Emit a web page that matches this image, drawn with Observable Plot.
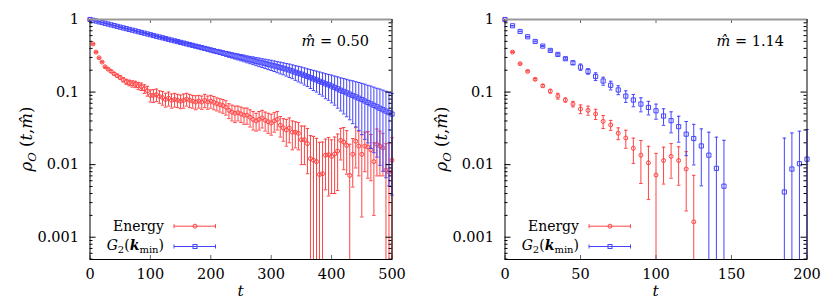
<!DOCTYPE html>
<html><head><meta charset="utf-8">
<script src="https://cdn.jsdelivr.net/npm/d3@7"></script>
<script src="https://cdn.jsdelivr.net/npm/@observablehq/plot@0.6"></script>
<style>
html,body{margin:0;padding:0;background:#fff;}
#wrap{display:flex;width:830px;height:302px;}
svg text{font-family:"DejaVu Serif",serif;}
</style></head><body><div id="wrap"></div>
<script>
// ---------- Left panel (m = 0.50) ----------
const tLeft = [0,5,10,15,20,25,30,35,40,45,50,55,60,65,70,75,80,85,90,95,100,105,110,115,120,125,130,135,140,145,150,155,160,165,170,175,180,185,190,195,200,205,210,215,220,225,230,235,240,245,250,255,260,265,270,275,280,285,290,295,300,305,310,315,320,325,330,335,340,345,350,355,360,365,370,375,380,385,390,395,400,405,410,415,420,425,430,435,440,445,450,455,460,465,470,475,480,485,490,495,500];
const energyLeft = [1.0,0.46,0.355,0.297,0.259,0.223,0.207,0.193,0.179,0.168,0.159,0.148,0.139,0.134,0.130,0.128,0.122,0.119,0.111,0.104,0.090,0.090,0.092,0.087,0.084,0.079,0.082,0.077,0.079,0.077,0.075,0.077,0.080,0.077,0.075,0.073,0.075,0.073,0.077,0.073,0.075,0.072,0.069,0.067,0.065,0.062,0.056,0.053,0.051,0.052,0.050,0.048,0.048,0.045,0.042,0.040,0.042,0.044,0.041,0.039,0.0375,0.040,0.042,0.035,0.032,0.030,0.032,0.028,0.028,0.027,0.022,0.022,0.0195,0.0121,0.0115,0.011,0.0073,0.0075,0.0135,0.0137,0.013,0.014,0.0154,0.0216,0.0205,0.0184,0.0071,0.0139,0.021,0.018,0.0139,0.018,0.0175,0.016,0.011,0.019,0.018,0.017,0.0084,0.0079,0.0115];
const energyLeftErr = [0,0.004,0.004,0.004,0.005,0.005,0.006,0.006,0.007,0.008,0.009,0.010,0.011,0.012,0.013,0.013,0.014,0.014,0.015,0.016,0.017,0.018,0.018,0.017,0.018,0.017,0.018,0.017,0.017,0.016,0.016,0.017,0.016,0.016,0.015,0.016,0.015,0.015,0.016,0.015,0.015,0.015,0.014,0.014,0.014,0.014,0.013,0.013,0.013,0.012,0.012,0.012,0.012,0.012,0.012,0.011,0.012,0.012,0.012,0.012,0.012,0.012,0.012,0.011,0.011,0.012,0.012,0.012,0.011,0.011,0.012,0.012,0.012,0.013,0.013,0.012,0.013,0.013,0.009,0.010,0.009,0.010,0.011,0.010,0.012,0.011,0.012,0.009,0.012,0.011,0.012,0.010,0.011,0.010,0.009,0.012,0.011,0.010,0.011,0.012,0.012];
const g2Left = [1.0,0.976,0.953,0.929,0.908,0.886,0.865,0.844,0.824,0.804,0.785,0.766,0.748,0.730,0.713,0.696,0.679,0.663,0.647,0.632,0.617,0.602,0.587,0.573,0.560,0.546,0.533,0.520,0.508,0.496,0.484,0.473,0.461,0.450,0.440,0.429,0.419,0.409,0.399,0.390,0.380,0.371,0.362,0.354,0.345,0.337,0.329,0.321,0.313,0.306,0.299,0.292,0.284,0.278,0.272,0.265,0.259,0.253,0.247,0.241,0.236,0.230,0.224,0.218,0.213,0.207,0.201,0.195,0.188,0.182,0.177,0.170,0.164,0.158,0.152,0.147,0.141,0.136,0.130,0.126,0.121,0.116,0.111,0.106,0.102,0.0977,0.0935,0.0897,0.0859,0.0824,0.0789,0.0753,0.0719,0.0687,0.0656,0.0627,0.0598,0.0571,0.0546,0.0521,0.0498];
const g2LeftErr = [0,0.002,0.002,0.003,0.003,0.003,0.004,0.004,0.004,0.005,0.005,0.005,0.006,0.006,0.006,0.007,0.007,0.008,0.008,0.009,0.009,0.010,0.010,0.011,0.011,0.012,0.012,0.013,0.014,0.014,0.015,0.016,0.016,0.017,0.018,0.018,0.019,0.020,0.020,0.021,0.022,0.023,0.023,0.024,0.025,0.026,0.027,0.027,0.028,0.029,0.030,0.031,0.031,0.032,0.033,0.034,0.035,0.035,0.036,0.037,0.038,0.038,0.039,0.040,0.040,0.041,0.042,0.042,0.043,0.044,0.044,0.045,0.045,0.046,0.047,0.047,0.048,0.048,0.049,0.049,0.050,0.050,0.051,0.051,0.052,0.052,0.052,0.053,0.053,0.053,0.053,0.053,0.052,0.052,0.051,0.050,0.050,0.049,0.048,0.047,0.046];

// ---------- Right panel (m = 1.14) ----------
const tEnergyRight = [0,5,10,15,20,25,30,35,40,45,50,55,60,65,70,75,80,85,90,95,100,105,110,115,120,125];
const energyRight = [1.0,0.355,0.246,0.193,0.150,0.122,0.103,0.088,0.0777,0.0684,0.0584,0.056,0.0499,0.0395,0.0352,0.0271,0.0233,0.0168,0.0135,0.0106,0.0072,0.0114,0.013,0.0114,0.0087,0.00163];
const energyRightErr = [0,0.004,0.004,0.004,0.004,0.005,0.006,0.008,0.005,0.006,0.008,0.008,0.008,0.008,0.0055,0.005,0.0065,0.0064,0.008,0.0073,0.0071,0.006,0.0065,0.0062,0.0064,0.0055];
const tG2Right = [0,5,10,15,20,25,30,35,40,45,50,55,60,65,70,75,80,85,90,95,100,105,110,115,120,125,130,135,140,145,185,190,195,200];
const g2Right = [1.0,0.819,0.684,0.578,0.498,0.43,0.375,0.33,0.288,0.253,0.221,0.193,0.164,0.142,0.124,0.107,0.088,0.0777,0.0684,0.0614,0.0552,0.0468,0.0404,0.0334,0.0263,0.0229,0.0181,0.0135,0.0089,0.00505,0.0042,0.0087,0.0103,0.0119];
const g2RightErr = [0,0.004,0.005,0.006,0.006,0.007,0.007,0.008,0.009,0.014,0.022,0.017,0.020,0.018,0.017,0.015,0.016,0.015,0.015,0.013,0.013,0.012,0.013,0.013,0.013,0.013,0.013,0.0145,0.015,0.0166,0.019,0.0186,0.0186,0.0186];

const yMajorTicks = [0.001, 0.01, 0.1, 1];
const yTickLabels = ["0.001", "0.01", "0.1", "1"];
const xTicksLeft = [0, 100, 200, 300, 400, 500];
const xTicksRight = [0, 50, 100, 150, 200];

// ---------- styling ----------
const RED = "#ff4444", BLUE = "#4444ff";
const W = 415, H = 302, ML = 89.5, MR = 23.5, MT = 19, MB = 43;
const PW = W - ML - MR, PH = H - MT - MB;
const YMIN = 4.93e-4;
const yMinorTicks = d3.scaleLog().domain([YMIN, 1]).ticks().filter(v => !yMajorTicks.some(m => Math.abs(m - v) / m < 1e-6));
const capSym = {draw(ctx, size) { const r = Math.sqrt(size / Math.PI); ctx.moveTo(-r, 0); ctx.lineTo(r, 0); }};

const rows = (t, v, e) => t.map((ti, i) => ({t: ti, v: v[i], e: e[i]}));

function errorMarks(data, color) {
  const lo = d => Math.max(d.v - d.e, YMIN);
  const hi = d => d.v + d.e;
  return [
    Plot.ruleX(data, {x: "t", y1: lo, y2: hi, stroke: color, strokeWidth: 1}),
    Plot.dot(data.filter(d => d.e > 0), {x: "t", y: hi, symbol: capSym, r: 1.75, stroke: color, fill: "none", strokeWidth: 1}),
    Plot.dot(data.filter(d => d.e > 0 && d.v - d.e > YMIN), {x: "t", y: d => d.v - d.e, symbol: capSym, r: 1.75, stroke: color, fill: "none", strokeWidth: 1})
  ];
}

function panel(cfg) {
  const red = rows(cfg.tE, cfg.vE, cfg.eE);
  const blue = rows(cfg.tG, cfg.vG, cfg.eG);
  const node = Plot.plot({
    width: W, height: H, marginLeft: ML, marginRight: MR, marginTop: MT, marginBottom: MB,
    style: {fontFamily: "'DejaVu Serif', serif", fontSize: "14.5px", color: "black", background: "white", overflow: "visible"},
    x: {domain: cfg.xDomain},
    y: {type: "log", domain: [YMIN, 1]},
    marks: [
      ...errorMarks(red, RED),
      Plot.dot(red, {x: "t", y: "v", symbol: "circle", r: 2, stroke: RED, fill: "none", strokeWidth: 1}),
      ...errorMarks(blue, BLUE),
      Plot.dot(blue, {x: "t", y: "v", symbol: "square", r: 2.35, stroke: BLUE, fill: "none", strokeWidth: 1}),
      Plot.tickY(yMajorTicks, {y: d => d, insetRight: PW - 6, stroke: "black"}),
      Plot.tickY(yMajorTicks, {y: d => d, insetLeft: PW - 6, stroke: "black"}),
      Plot.tickY(yMinorTicks, {y: d => d, insetRight: PW - 3, stroke: "black"}),
      Plot.tickY(yMinorTicks, {y: d => d, insetLeft: PW - 3, stroke: "black"}),
      Plot.tickX(cfg.xTicks, {x: d => d, insetTop: PH - 4, stroke: "#666"}),
      Plot.tickX(cfg.xTicks, {x: d => d, insetBottom: PH - 4, stroke: "#666"}),
      Plot.frame({stroke: "black"}),
      Plot.ruleY([1], {stroke: "#999", strokeWidth: 2}),
      Plot.axisX({ticks: cfg.xTicks, tickSize: 0, tickPadding: 9, tickFormat: d => String(d), label: null}),
      Plot.axisY({ticks: yMajorTicks, tickSize: 0, tickPadding: 11, tickFormat: d => yTickLabels[yMajorTicks.indexOf(d)], label: null})
    ]
  });
  const svg = d3.select(node);

  // y-axis title
  const yt = svg.append("text").attr("transform", "translate(32,139) rotate(-90)")
    .attr("text-anchor", "middle").style("font-size", "16.5px").attr("fill", "black");
  yt.append("tspan").style("font-style", "italic").text("ρ");
  yt.append("tspan").style("font-style", "italic").style("font-size", "11.5px").attr("dy", 3.8).text("O");
  yt.append("tspan").attr("dy", -3.8).text(" (");
  yt.append("tspan").style("font-style", "italic").text("t");
  yt.append("tspan").text(",");
  yt.append("tspan").style("font-style", "italic").text("m\u0302");
  yt.append("tspan").text(")");

  // x-axis title
  svg.append("text").attr("x", ML + PW / 2).attr("y", 296).attr("text-anchor", "middle")
    .style("font-style", "italic").style("font-size", "15.5px").attr("fill", "black").text("t");

  // annotation
  const a = svg.append("text").attr("x", 369).attr("y", 46).attr("text-anchor", "end")
    .style("font-size", "14.5px").attr("fill", "black");
  a.append("tspan").style("font-style", "italic").text("m\u0302");
  a.append("tspan").text(" = " + cfg.label);

  // legend
  const lg = svg.append("g").style("font-size", "14px").attr("fill", "black");
  const r1 = 225.7, r2 = 246;
  lg.append("text").attr("x", 164).attr("y", r1 + 5).attr("text-anchor", "end").text("Energy");
  const t2 = lg.append("text").attr("x", 164).attr("y", r2 + 4).attr("text-anchor", "end");
  t2.append("tspan").style("font-style", "italic").text("G");
  t2.append("tspan").style("font-size", "10px").attr("dy", 3).text("2");
  t2.append("tspan").attr("dy", -3).text("(");
  t2.append("tspan").style("font-style", "italic").style("font-weight", "bold").text("k");
  t2.append("tspan").style("font-size", "10px").attr("dy", 3).text("min");
  t2.append("tspan").attr("dy", -3).text(")");
  function sample(y, color, shape) {
    const s = lg.append("g").attr("stroke", color).attr("fill", "none");
    s.append("line").attr("x1", 174).attr("x2", 215.5).attr("y1", y).attr("y2", y);
    s.append("line").attr("x1", 174).attr("x2", 174).attr("y1", y - 2).attr("y2", y + 2);
    s.append("line").attr("x1", 215.5).attr("x2", 215.5).attr("y1", y - 2).attr("y2", y + 2);
    if (shape === "circle") s.append("circle").attr("cx", 195).attr("cy", y).attr("r", 2);
    else s.append("rect").attr("x", 193).attr("y", y - 2).attr("width", 4).attr("height", 4);
  }
  sample(r1 + 0.5, RED, "circle");
  sample(r2 + 0.5, BLUE, "square");
  return node;
}

const wrap = document.getElementById("wrap");
wrap.appendChild(panel({tE: tLeft, vE: energyLeft, eE: energyLeftErr, tG: tLeft, vG: g2Left, eG: g2LeftErr,
  xDomain: [0, 500], xTicks: xTicksLeft, label: "0.50"}));
wrap.appendChild(panel({tE: tEnergyRight, vE: energyRight, eE: energyRightErr, tG: tG2Right, vG: g2Right, eG: g2RightErr,
  xDomain: [0, 200], xTicks: xTicksRight, label: "1.14"}));
</script></body></html>
